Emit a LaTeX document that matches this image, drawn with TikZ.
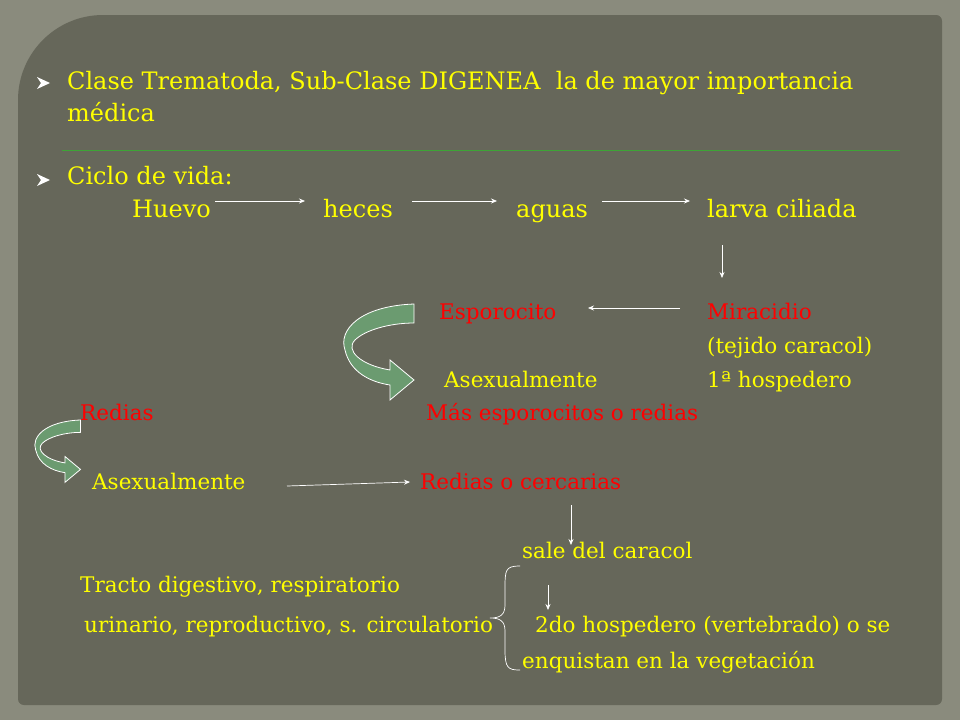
\documentclass[tikz,border=0pt]{standalone}
\usepackage{fontspec}
\setmainfont{DejaVu Serif}
\usetikzlibrary{arrows.meta,decorations.pathreplacing}
\definecolor{outerbg}{HTML}{8A8B7D}
\definecolor{panel}{HTML}{66675A}
\definecolor{ytxt}{HTML}{FFFF00}
\definecolor{rtxt}{HTML}{FF0000}
\definecolor{gfill}{HTML}{6B9B70}
\tikzset{
 big/.style={anchor=west,text=ytxt,font=\fontsize{24}{28}\selectfont,inner sep=0pt,text height=0.72em,text depth=0.2em,yshift=-4pt},
 yl/.style={anchor=west,text=ytxt,font=\fontsize{21.5}{25}\selectfont,inner sep=0pt,text height=0.72em,text depth=0.2em,yshift=-4pt},
 rl/.style={yl,text=rtxt},
 arr/.style={draw=white,-{Stealth[length=6pt,width=5pt]},line width=0.7pt},
 pics/carrow/.style={code={
  \draw[white,line width=0.8pt,fill=gfill] (70,0) .. controls (16,2) and (-6,26) .. (1,46) .. controls (6,68) and (26,78) .. (46,81) -- (46,96) -- (70,76) -- (46,56) -- (46,66) .. controls (16,61) and (1,46) .. (11,36) .. controls (21,26) and (46,19) .. (70,19) -- cycle;
 }}
}
\begin{document}
\begin{tikzpicture}[x=1pt,y=-1pt]
\useasboundingbox (0,0) rectangle (960,720);
\fill[outerbg] (0,0) rectangle (960,720);
\fill[panel,rounded corners=6pt] (18,705) -- (18,100) [rounded corners=85pt] -- (18,15) [rounded corners=6pt] -- (942,15) -- (942,705) -- cycle;
\fill[white] (37,77) -- (50,83) -- (37,89) -- (41,83) -- cycle;
\fill[white] (37,174) -- (50,180) -- (37,186) -- (41,180) -- cycle;
\node[big] (t1) at (67,83) {Clase Trematoda, Sub-Clase DIGENEA\ \ la de mayor importancia};
\node[big] (t2) at (67,115) {médica};
\draw[green!40!panel,line width=0.8pt] (62,150) -- (900,150);
\node[big] (t3) at (67,178) {Ciclo de vida:};
\node[big] (huevo) at (132,211) {Huevo};
\node[big] (heces) at (323,211) {heces};
\node[big] (aguas) at (516,211) {aguas};
\node[big] (larva) at (707,211) {larva ciliada};
\coordinate (a1s) at (215,201); \coordinate (a1e) at (305,201);
\coordinate (a2s) at (412,201); \coordinate (a2e) at (497,201);
\coordinate (a3s) at (602,201); \coordinate (a3e) at (690,201);
\draw[arr] (a1s) -- (a1e); \draw[arr] (a2s) -- (a2e); \draw[arr] (a3s) -- (a3e);
\coordinate (v1s) at (722,245); \coordinate (v1e) at (722,278);
\draw[arr] (v1s) -- (v1e);
\node[rl] (espo) at (439,313) {Esporocito};
\node[rl] (mira) at (707,313) {Miracidio};
\coordinate (m1s) at (680,308); \coordinate (m1e) at (588,308);
\draw[arr] (m1s) -- (m1e);
\node[yl] (tej) at (707,347) {(tejido caracol)};
\node[yl] (ase1) at (444,381) {Asexualmente};
\node[yl] (hosp1) at (707,381) {1ª hospedero};
\node[rl] (redias) at (80,414) {Redias};
\node[rl] (mas) at (426,414) {Más esporocitos o redias};
\node[yl] (ase2) at (92,483) {Asexualmente};
\node[rl] (rc) at (420,483) {Redias o cercarias};
\coordinate (b1s) at (287,486); \coordinate (b1e) at (410,482);
\draw[arr] (b1s) -- (b1e);
\coordinate (v2s) at (571,505); \coordinate (v2e) at (571,545);
\draw[arr] (v2s) -- (v2e);
\node[yl] (sale) at (522,552) {sale del caracol};
\node[yl] (tracto) at (80,586) {Tracto digestivo, respiratorio};
\node[yl] (uri) at (84,626) {urinario, reproductivo, s. circulatorio};
\node[yl] (hosp2) at (535,626) {2do hospedero (vertebrado) o se};
\node[yl] (enq) at (522,662) {enquistan en la vegetación};
\coordinate (v3s) at (548,585); \coordinate (v3e) at (548,610);
\draw[arr] (v3s) -- (v3e);
\draw[white,line width=0.7pt] (520,566) .. controls (505,566) and (505,570) .. (505,590) -- (505,605) .. controls (505,615) and (500,618) .. (490,618) .. controls (500,618) and (505,621) .. (505,631) -- (505,650) .. controls (505,668) and (508,670) .. (520,670);
\pic at (344,304) {carrow};
\pic[scale=0.65] at (35,420) {carrow};
\end{tikzpicture}
\end{document}
